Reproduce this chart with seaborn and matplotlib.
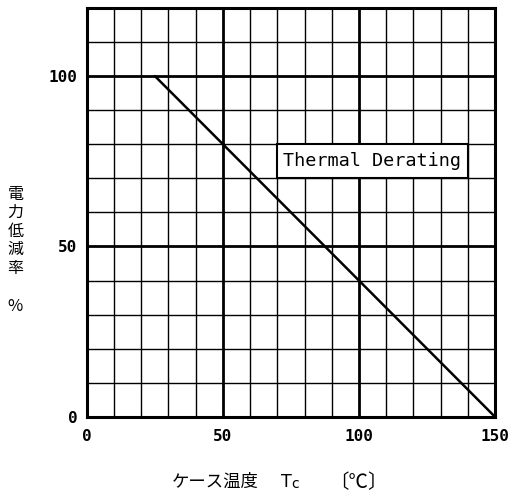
import matplotlib
matplotlib.use("Agg")
import matplotlib.pyplot as plt
import seaborn as sns
import pandas as pd
from matplotlib.ticker import MultipleLocator
from matplotlib.patches import Rectangle

# data
case_temp = [25, 150]
derating = [100, 0]
x_ticks = [0, 50, 100, 150]
y_ticks = [0, 50, 100]
curve_label = "Thermal Derating"
y_label_chars = ["電", "力", "低", "減", "率"]
y_unit = "%"
x_label_main = "ケース温度"
x_label_sym = "T"
x_label_sub = "c"
x_label_unit = "〔℃〕"

sns.set_theme(style="white")
plt.rcParams['font.family'] = ['Noto Sans CJK JP', 'DejaVu Sans']

df = pd.DataFrame({"temp": case_temp, "derate": derating})

fig = plt.figure(figsize=(5.14, 4.95), dpi=100)
ax = fig.add_axes([0.169, 0.158, 0.794, 0.826])

sns.lineplot(data=df, x="temp", y="derate", ax=ax, color="black", lw=1.8, zorder=5)

ax.set_xlim(0, 150)
ax.set_ylim(0, 120)
ax.xaxis.set_minor_locator(MultipleLocator(10))
ax.yaxis.set_minor_locator(MultipleLocator(10))
ax.set_xticks(x_ticks)
ax.set_yticks(y_ticks)
ax.grid(which="minor", color="black", lw=1.0)
ax.grid(which="major", color="black", lw=2.0)
ax.set_axisbelow(True)
ax.tick_params(which="both", length=0)
ax.tick_params(axis="x", pad=9)
ax.tick_params(axis="y", pad=7)
for lab in ax.get_xticklabels() + ax.get_yticklabels():
    lab.set_family("DejaVu Sans Mono")
    lab.set_fontsize(11.5)
    lab.set_fontweight("bold")
    lab.set_color("black")
for sp in ax.spines.values():
    sp.set_color("black")
    sp.set_linewidth(2.2)
ax.set_xlabel("")
ax.set_ylabel("")

# label box
ax.add_patch(Rectangle((70, 70), 70, 10, facecolor="white", edgecolor="black",
                       lw=1.5, zorder=3))
ax.text(72, 75, curve_label, family="DejaVu Sans Mono", fontsize=13.3,
        va="center", ha="left", zorder=4, color="black")

fig.text(0.03, 0.533, "\n".join(y_label_chars), ha="center", va="center",
         fontsize=11.5, linespacing=1.12, color="black")
fig.text(0.03, 0.38, y_unit, ha="center", va="center", fontsize=12, color="black")

y_xl = 0.026
fig.text(0.418, y_xl, x_label_main, ha="center", va="center", fontsize=12.5, color="black")
fig.text(0.547, y_xl, x_label_sym, ha="left", va="center", fontsize=12.5, color="black",
         family="DejaVu Sans")
fig.text(0.566, y_xl - 0.004, x_label_sub, ha="left", va="center", fontsize=10, color="black",
         family="DejaVu Sans")
fig.text(0.697, y_xl, x_label_unit, ha="center", va="center", fontsize=14, color="black")

fig.savefig("out.png", dpi=100)
